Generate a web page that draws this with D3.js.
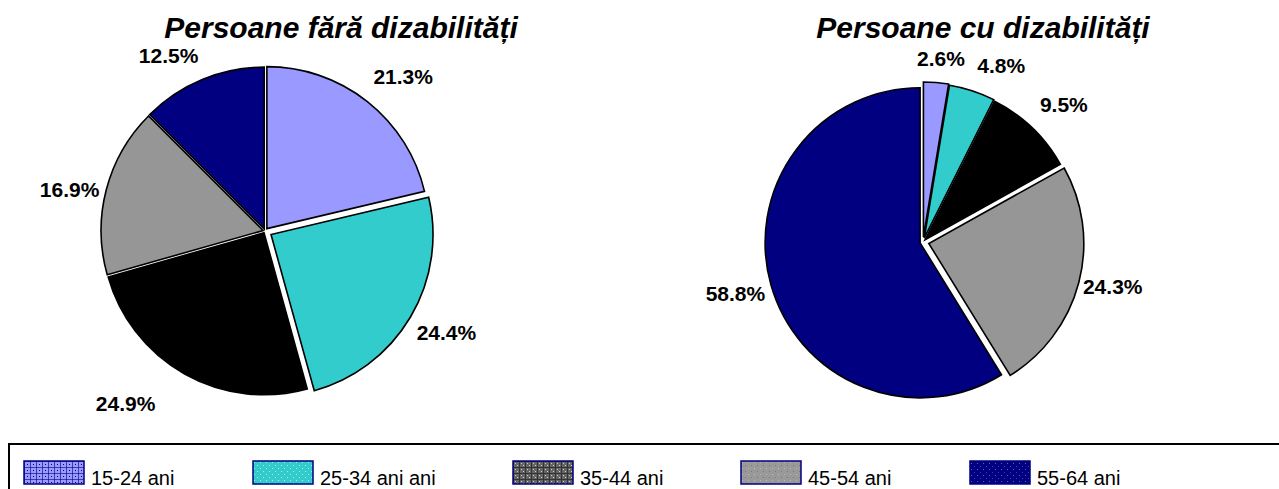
<!DOCTYPE html>
<html>
<head>
<meta charset="utf-8">
<script src="https://cdn.jsdelivr.net/npm/d3@7"></script>
<style>
  body { margin: 0; background: #fff; }
  svg { display: block; font-family: Arial, "Liberation Sans", sans-serif; }
</style>
</head>
<body>
<div id="chart"></div>
<script>
// data
var categories = ["15-24 ani", "25-34 ani ani", "35-44 ani", "45-54 ani", "55-64 ani"];
var titles = ["Persoane fără dizabilități", "Persoane cu dizabilități"];
var faraDiz = [21.3, 24.4, 24.9, 16.9, 12.5];
var cuDiz = [2.6, 4.8, 9.5, 24.3, 58.8];

var colors = ["#9999FF", "#33CCCC", "#000000", "#969696", "#000080"];

var width = 1279, height = 489;

var svg = d3.select("#chart").append("svg")
    .attr("width", width)
    .attr("height", height);

var defs = svg.append("defs");

// legend fill patterns (Excel style)
function makePattern(id, bg, fg, draw) {
  var p = defs.append("pattern")
      .attr("id", id)
      .attr("patternUnits", "userSpaceOnUse")
      .attr("width", 6).attr("height", 6);
  p.append("rect").attr("width", 6).attr("height", 6).attr("fill", bg);
  draw(p, fg);
}
makePattern("p0", "#9999FF", "#000080", function(p, fg) {
  p.append("rect").attr("x", 0).attr("y", 0).attr("width", 6).attr("height", 1).attr("fill", fg).attr("opacity", 0.6);
  p.append("rect").attr("x", 0).attr("y", 0).attr("width", 1).attr("height", 6).attr("fill", fg).attr("opacity", 0.6);
  p.append("rect").attr("x", 3).attr("y", 3).attr("width", 1).attr("height", 1).attr("fill", fg);
});
makePattern("p1", "#33CCCC", "#ffffff", function(p, fg) {
  p.append("rect").attr("x", 1).attr("y", 1).attr("width", 1).attr("height", 1).attr("fill", fg).attr("opacity", 0.6);
  p.append("rect").attr("x", 4).attr("y", 4).attr("width", 1).attr("height", 1).attr("fill", fg).attr("opacity", 0.6);
});
makePattern("p2", "#666666", "#cccccc", function(p, fg) {
  p.append("rect").attr("x", 0).attr("y", 0).attr("width", 6).attr("height", 1).attr("fill", "#333");
  p.append("rect").attr("x", 0).attr("y", 0).attr("width", 1).attr("height", 6).attr("fill", "#333");
  p.append("rect").attr("x", 2).attr("y", 2).attr("width", 1).attr("height", 1).attr("fill", fg);
  p.append("rect").attr("x", 4).attr("y", 4).attr("width", 1).attr("height", 1).attr("fill", fg);
});
makePattern("p3", "#999999", "#bbbbbb", function(p, fg) {
  p.append("rect").attr("x", 1).attr("y", 1).attr("width", 1).attr("height", 1).attr("fill", fg);
  p.append("rect").attr("x", 4).attr("y", 4).attr("width", 1).attr("height", 1).attr("fill", "#777");
});
makePattern("p4", "#000080", "#9999ff", function(p, fg) {
  p.append("rect").attr("x", 1).attr("y", 2).attr("width", 1).attr("height", 1).attr("fill", fg).attr("opacity", 0.6);
  p.append("rect").attr("x", 4).attr("y", 5).attr("width", 1).attr("height", 1).attr("fill", fg).attr("opacity", 0.4);
});

var pie = d3.pie().sort(null).value(function(d) { return d; });

// layout for the two pies
var pies = [
  { values: faraDiz, title: titles[0], cx: 265, cy: 231, r: 162, titleX: 341, labelR: 205,
    explode: [3, 7, 2, 2, 2],
    nudge: [[11, 6], [5, -3], [-39, -6], [3, 10], [-18, 14]] },
  { values: cuDiz, title: titles[1], cx: 923, cy: 242, r: 155, titleX: 983, labelR: 195,
    explode: [5, 4, 3, 6, 3],
    nudge: [[2, 11], [18, 9], [6, 3], [1, -5], [0, -2]] }
];

pies.forEach(function(cfg) {
  var g = svg.append("g").attr("transform", "translate(" + cfg.cx + "," + cfg.cy + ")");
  var arc = d3.arc().innerRadius(0).outerRadius(cfg.r);
  var arcs = pie(cfg.values);

  g.selectAll("path.slice")
    .data(arcs)
    .enter()
    .append("path")
      .attr("class", "slice")
      .attr("d", arc)
      .attr("transform", function(d, i) {
        var a = (d.startAngle + d.endAngle) / 2, off = cfg.explode[i];
        return "translate(" + (off * Math.sin(a)) + "," + (-off * Math.cos(a)) + ")";
      })
      .attr("fill", function(d, i) { return colors[i]; })
      .attr("stroke", "#000")
      .attr("stroke-width", 1.6)
      .attr("stroke-linejoin", "miter");

  g.selectAll("text.label")
    .data(arcs)
    .enter()
    .append("text")
      .attr("class", "label")
      .attr("x", function(d, i) {
        var a = (d.startAngle + d.endAngle) / 2;
        return cfg.labelR * Math.sin(a) + cfg.nudge[i][0];
      })
      .attr("y", function(d, i) {
        var a = (d.startAngle + d.endAngle) / 2;
        return -cfg.labelR * Math.cos(a) + cfg.nudge[i][1];
      })
      .attr("dy", "0.36em")
      .attr("text-anchor", "middle")
      .style("font-size", "21px")
      .style("font-weight", "bold")
      .style("fill", "#000")
      .text(function(d) { return d.data.toFixed(1) + "%"; });

  svg.append("text")
    .attr("x", cfg.titleX)
    .attr("y", 38)
    .attr("text-anchor", "middle")
    .style("font-size", "30px")
    .style("font-weight", "bold")
    .style("font-style", "italic")
    .style("fill", "#000")
    .text(cfg.title);
});

// legend
var legendX = [24, 253, 513, 741, 970];

svg.append("rect")
  .attr("x", 9)
  .attr("y", 444)
  .attr("width", 1300)
  .attr("height", 80)
  .attr("fill", "none")
  .attr("stroke", "#000")
  .attr("stroke-width", 2);

var legend = svg.selectAll("g.legend")
  .data(categories)
  .enter()
  .append("g")
    .attr("class", "legend")
    .attr("transform", function(d, i) { return "translate(" + legendX[i] + ",461)"; });

legend.append("rect")
  .attr("x", 0)
  .attr("y", 0)
  .attr("width", 60)
  .attr("height", 23)
  .attr("fill", function(d, i) { return "url(#p" + i + ")"; })
  .attr("stroke", "#000080")
  .attr("stroke-width", 1.5);

legend.append("text")
  .attr("x", 67)
  .attr("y", 24)
  .style("font-size", "20px")
  .style("fill", "#000")
  .text(function(d) { return d; });
</script>
</body>
</html>
